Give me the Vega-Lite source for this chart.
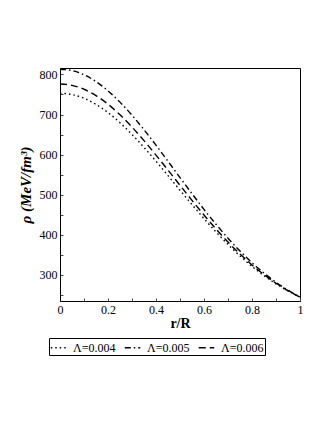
{
  "$schema": "https://vega.github.io/schema/vega-lite/v6.json",
  "width": 240,
  "height": 233,
  "autosize": {"type": "none"},
  "padding": {"left": 60, "top": 68, "right": 27, "bottom": 122},
  "background": "white",
  "config": {
    "view": {"stroke": "#000", "strokeWidth": 1},
    "font": "Liberation Serif, Times New Roman, serif"
  },
  "data": {
    "values": [
      {"r": 0, "rho": 753, "s": "Λ=0.004"},
      {"r": 0.05, "rho": 749.9, "s": "Λ=0.004"},
      {"r": 0.1, "rho": 740.6, "s": "Λ=0.004"},
      {"r": 0.15, "rho": 725.4, "s": "Λ=0.004"},
      {"r": 0.2, "rho": 704.9, "s": "Λ=0.004"},
      {"r": 0.25, "rho": 679.6, "s": "Λ=0.004"},
      {"r": 0.3, "rho": 650.4, "s": "Λ=0.004"},
      {"r": 0.35, "rho": 618.0, "s": "Λ=0.004"},
      {"r": 0.4, "rho": 583.5, "s": "Λ=0.004"},
      {"r": 0.45, "rho": 547.6, "s": "Λ=0.004"},
      {"r": 0.5, "rho": 511.3, "s": "Λ=0.004"},
      {"r": 0.55, "rho": 475.4, "s": "Λ=0.004"},
      {"r": 0.6, "rho": 440.5, "s": "Λ=0.004"},
      {"r": 0.65, "rho": 407.2, "s": "Λ=0.004"},
      {"r": 0.7, "rho": 376.1, "s": "Λ=0.004"},
      {"r": 0.75, "rho": 347.4, "s": "Λ=0.004"},
      {"r": 0.8, "rho": 321.4, "s": "Λ=0.004"},
      {"r": 0.85, "rho": 298.3, "s": "Λ=0.004"},
      {"r": 0.9, "rho": 277.8, "s": "Λ=0.004"},
      {"r": 0.95, "rho": 260.2, "s": "Λ=0.004"},
      {"r": 1, "rho": 245, "s": "Λ=0.004"},
      {"r": 0, "rho": 813, "s": "Λ=0.005"},
      {"r": 0.05, "rho": 809.5, "s": "Λ=0.005"},
      {"r": 0.1, "rho": 799.1, "s": "Λ=0.005"},
      {"r": 0.15, "rho": 782.2, "s": "Λ=0.005"},
      {"r": 0.2, "rho": 759.2, "s": "Λ=0.005"},
      {"r": 0.25, "rho": 730.9, "s": "Λ=0.005"},
      {"r": 0.3, "rho": 698.3, "s": "Λ=0.005"},
      {"r": 0.35, "rho": 662.1, "s": "Λ=0.005"},
      {"r": 0.4, "rho": 623.5, "s": "Λ=0.005"},
      {"r": 0.45, "rho": 583.4, "s": "Λ=0.005"},
      {"r": 0.5, "rho": 542.8, "s": "Λ=0.005"},
      {"r": 0.55, "rho": 502.6, "s": "Λ=0.005"},
      {"r": 0.6, "rho": 463.5, "s": "Λ=0.005"},
      {"r": 0.65, "rho": 426.4, "s": "Λ=0.005"},
      {"r": 0.7, "rho": 391.6, "s": "Λ=0.005"},
      {"r": 0.75, "rho": 359.5, "s": "Λ=0.005"},
      {"r": 0.8, "rho": 330.5, "s": "Λ=0.005"},
      {"r": 0.85, "rho": 304.5, "s": "Λ=0.005"},
      {"r": 0.9, "rho": 281.7, "s": "Λ=0.005"},
      {"r": 0.95, "rho": 261.9, "s": "Λ=0.005"},
      {"r": 1, "rho": 245, "s": "Λ=0.005"},
      {"r": 0, "rho": 776, "s": "Λ=0.006"},
      {"r": 0.05, "rho": 772.7, "s": "Λ=0.006"},
      {"r": 0.1, "rho": 763.0, "s": "Λ=0.006"},
      {"r": 0.15, "rho": 747.2, "s": "Λ=0.006"},
      {"r": 0.2, "rho": 725.7, "s": "Λ=0.006"},
      {"r": 0.25, "rho": 699.3, "s": "Λ=0.006"},
      {"r": 0.3, "rho": 668.7, "s": "Λ=0.006"},
      {"r": 0.35, "rho": 634.9, "s": "Λ=0.006"},
      {"r": 0.4, "rho": 598.8, "s": "Λ=0.006"},
      {"r": 0.45, "rho": 561.4, "s": "Λ=0.006"},
      {"r": 0.5, "rho": 523.4, "s": "Λ=0.006"},
      {"r": 0.55, "rho": 485.8, "s": "Λ=0.006"},
      {"r": 0.6, "rho": 449.3, "s": "Λ=0.006"},
      {"r": 0.65, "rho": 414.6, "s": "Λ=0.006"},
      {"r": 0.7, "rho": 382.0, "s": "Λ=0.006"},
      {"r": 0.75, "rho": 352.1, "s": "Λ=0.006"},
      {"r": 0.8, "rho": 324.9, "s": "Λ=0.006"},
      {"r": 0.85, "rho": 300.7, "s": "Λ=0.006"},
      {"r": 0.9, "rho": 279.3, "s": "Λ=0.006"},
      {"r": 0.95, "rho": 260.8, "s": "Λ=0.006"},
      {"r": 1, "rho": 245, "s": "Λ=0.006"}
    ]
  },
  "mark": {"type": "line", "color": "black", "strokeWidth": 1.4, "interpolate": "monotone", "clip": true},
  "encoding": {
    "x": {
      "field": "r", "type": "quantitative",
      "scale": {"domain": [0, 1], "nice": false},
      "axis": {
        "title": "r/R", "titleFont": "Liberation Serif, Times New Roman, serif", "titleFontSize": 14, "titleFontWeight": "bold", "titleColor": "black", "titlePadding": 1,
        "values": [0, 0.1, 0.2, 0.3, 0.4, 0.5, 0.6, 0.7, 0.8, 0.9, 1],
        "format": "~g",
        "labelExpr": "(round(datum.value*10) % 2 == 0) ? datum.label : ''",
        "labelFont": "Liberation Serif, Times New Roman, serif", "labelFontSize": 12, "labelColor": "black", "labelPadding": 6,
        "tickSize": -3, "tickColor": "#444", "domainColor": "black", "grid": false, "labelFlush": false
      }
    },
    "y": {
      "field": "rho", "type": "quantitative",
      "scale": {"domain": [235, 816], "nice": false, "zero": false},
      "axis": {
        "title": "ρ (MeV/fm³)", "titleFont": "Liberation Serif, Times New Roman, serif", "titleFontSize": 15, "titleFontWeight": "bold", "titleFontStyle": "italic", "titleColor": "black", "titlePadding": 6,
        "values": [250, 300, 350, 400, 450, 500, 550, 600, 650, 700, 750, 800],
        "labelExpr": "(datum.value % 100 == 0) ? datum.label : ''",
        "labelFont": "Liberation Serif, Times New Roman, serif", "labelFontSize": 12, "labelColor": "black", "labelPadding": 6,
        "tickSize": -3, "tickColor": "#444", "domainColor": "black", "grid": false
      }
    },
    "strokeDash": {
      "field": "s", "type": "nominal",
      "scale": {"domain": ["Λ=0.004", "Λ=0.005", "Λ=0.006"], "range": [[1.5, 3], [6, 3, 1.5, 3], [7, 4]]},
      "legend": {
        "title": null, "orient": "none", "legendX": -11, "legendY": 270, "direction": "horizontal",
        "strokeColor": "black", "padding": 1, "columnPadding": 6,
        "symbolType": "stroke", "symbolSize": 240, "symbolStrokeWidth": 1.3, "symbolStrokeColor": "black",
        "labelFont": "Liberation Serif, Times New Roman, serif", "labelFontSize": 12, "labelColor": "black", "labelOffset": 6
      }
    }
  }
}
